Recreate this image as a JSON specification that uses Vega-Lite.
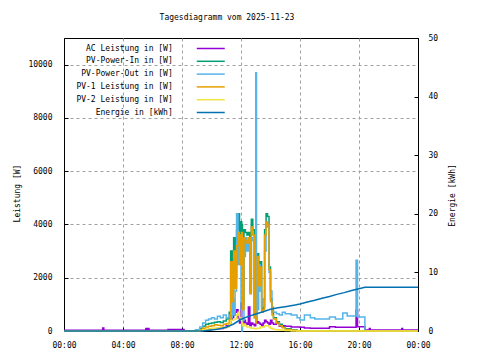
{
  "$schema": "https://vega.github.io/schema/vega-lite/v6.json",
  "width": 354,
  "height": 293,
  "autosize": "none",
  "padding": {"left": 64, "top": 38, "right": 62, "bottom": 29},
  "background": "white",
  "config": {
    "font": "DejaVu Sans Mono",
    "view": {"stroke": "black", "strokeWidth": 1},
    "axis": {
      "labelFont": "DejaVu Sans Mono", "labelFontSize": 8, "labelColor": "black",
      "titleFont": "DejaVu Sans Mono", "titleFontSize": 8, "titleFontWeight": "normal", "titleColor": "black",
      "domainColor": "black", "tickColor": "black", "tickSize": -4,
      "gridColor": "#a0a0a0", "gridDash": [3, 3], "gridWidth": 1
    }
  },
  "title": {"text": "Tagesdiagramm vom 2025-11-23", "font": "DejaVu Sans Mono", "fontSize": 8, "fontWeight": "normal", "color": "black", "offset": 12, "anchor": "middle", "frame": "group", "dx": -14},
  "datasets": {
    "power": [
      {"h": 0, "ac": 30, "pin": 0, "pout": 0, "pv1": 0, "pv2": 0},
      {"h": 2.62, "ac": 110, "pin": 0, "pout": 0, "pv1": 0, "pv2": 0},
      {"h": 2.7, "ac": 30, "pin": 0, "pout": 0, "pv1": 0, "pv2": 0},
      {"h": 5.55, "ac": 90, "pin": 0, "pout": 0, "pv1": 0, "pv2": 0},
      {"h": 5.62, "ac": 30, "pin": 0, "pout": 0, "pv1": 0, "pv2": 0},
      {"h": 5.7, "ac": 90, "pin": 0, "pout": 0, "pv1": 0, "pv2": 0},
      {"h": 5.76, "ac": 30, "pin": 0, "pout": 0, "pv1": 0, "pv2": 0},
      {"h": 7.05, "ac": 55, "pin": 0, "pout": 0, "pv1": 0, "pv2": 0},
      {"h": 8.14, "ac": 0, "pin": 0, "pout": 0, "pv1": 0, "pv2": 0},
      {"h": 8.9, "ac": 0, "pin": 20, "pout": 40, "pv1": 10, "pv2": 0},
      {"h": 9.0, "ac": 0, "pin": 20, "pout": 50, "pv1": 10, "pv2": 0},
      {"h": 9.2, "ac": 20, "pin": 80, "pout": 150, "pv1": 40, "pv2": 20},
      {"h": 9.4, "ac": 30, "pin": 180, "pout": 300, "pv1": 100, "pv2": 50},
      {"h": 9.6, "ac": 50, "pin": 250, "pout": 400, "pv1": 150, "pv2": 70},
      {"h": 9.8, "ac": 60, "pin": 280, "pout": 450, "pv1": 180, "pv2": 80},
      {"h": 10.0, "ac": 80, "pin": 300, "pout": 500, "pv1": 200, "pv2": 100},
      {"h": 10.2, "ac": 70, "pin": 330, "pout": 450, "pv1": 230, "pv2": 100},
      {"h": 10.4, "ac": 100, "pin": 350, "pout": 550, "pv1": 220, "pv2": 120},
      {"h": 10.6, "ac": 90, "pin": 320, "pout": 500, "pv1": 200, "pv2": 120},
      {"h": 10.8, "ac": 130, "pin": 380, "pout": 600, "pv1": 250, "pv2": 130},
      {"h": 11.0, "ac": 200, "pin": 450, "pout": 500, "pv1": 280, "pv2": 150},
      {"h": 11.2, "ac": 250, "pin": 700, "pout": 600, "pv1": 400, "pv2": 250},
      {"h": 11.3, "ac": 400, "pin": 3000, "pout": 500, "pv1": 2600, "pv2": 400},
      {"h": 11.4, "ac": 500, "pin": 1500, "pout": 1200, "pv1": 1100, "pv2": 400},
      {"h": 11.5, "ac": 600, "pin": 3500, "pout": 600, "pv1": 3000, "pv2": 450},
      {"h": 11.6, "ac": 700, "pin": 2000, "pout": 1500, "pv1": 1600, "pv2": 450},
      {"h": 11.7, "ac": 800, "pin": 3800, "pout": 4400, "pv1": 3200, "pv2": 600},
      {"h": 11.8, "ac": 500, "pin": 4400, "pout": 2500, "pv1": 3700, "pv2": 700},
      {"h": 11.9, "ac": 300, "pin": 3000, "pout": 3200, "pv1": 2500, "pv2": 500},
      {"h": 12.0, "ac": 1050, "pin": 4100, "pout": 800, "pv1": 3600, "pv2": 400},
      {"h": 12.05, "ac": 200, "pin": 4000, "pout": 0, "pv1": 3700, "pv2": 300},
      {"h": 12.1, "ac": 300, "pin": 1000, "pout": 400, "pv1": 800, "pv2": 200},
      {"h": 12.2, "ac": 400, "pin": 3800, "pout": 2800, "pv1": 3500, "pv2": 250},
      {"h": 12.3, "ac": 300, "pin": 3700, "pout": 3500, "pv1": 3400, "pv2": 200},
      {"h": 12.4, "ac": 250, "pin": 3600, "pout": 3000, "pv1": 3300, "pv2": 150},
      {"h": 12.5, "ac": 900, "pin": 3700, "pout": 3400, "pv1": 3500, "pv2": 150},
      {"h": 12.6, "ac": 200, "pin": 1500, "pout": 1800, "pv1": 1400, "pv2": 120},
      {"h": 12.7, "ac": 300, "pin": 4200, "pout": 3500, "pv1": 3900, "pv2": 100},
      {"h": 12.8, "ac": 250, "pin": 3800, "pout": 3400, "pv1": 3600, "pv2": 100},
      {"h": 12.9, "ac": 200, "pin": 600, "pout": 500, "pv1": 500, "pv2": 80},
      {"h": 13.0, "ac": 300, "pin": 400, "pout": 9700, "pv1": 300, "pv2": 80},
      {"h": 13.05, "ac": 300, "pin": 500, "pout": 400, "pv1": 400, "pv2": 80},
      {"h": 13.1, "ac": 350, "pin": 2900, "pout": 800, "pv1": 2800, "pv2": 100},
      {"h": 13.2, "ac": 300, "pin": 1800, "pout": 2500, "pv1": 1700, "pv2": 100},
      {"h": 13.3, "ac": 250, "pin": 2600, "pout": 1500, "pv1": 2400, "pv2": 150},
      {"h": 13.4, "ac": 200, "pin": 800, "pout": 900, "pv1": 700, "pv2": 150},
      {"h": 13.5, "ac": 300, "pin": 900, "pout": 1200, "pv1": 800, "pv2": 150},
      {"h": 13.6, "ac": 400, "pin": 3800, "pout": 3000, "pv1": 3600, "pv2": 200},
      {"h": 13.7, "ac": 350, "pin": 4400, "pout": 4100, "pv1": 4100, "pv2": 200},
      {"h": 13.8, "ac": 300, "pin": 4300, "pout": 3900, "pv1": 4000, "pv2": 200},
      {"h": 13.9, "ac": 250, "pin": 2400, "pout": 2200, "pv1": 2300, "pv2": 150},
      {"h": 14.0, "ac": 400, "pin": 1200, "pout": 1500, "pv1": 1100, "pv2": 100},
      {"h": 14.1, "ac": 300, "pin": 700, "pout": 900, "pv1": 600, "pv2": 80},
      {"h": 14.2, "ac": 250, "pin": 500, "pout": 700, "pv1": 450, "pv2": 60},
      {"h": 14.4, "ac": 300, "pin": 350, "pout": 650, "pv1": 300, "pv2": 50},
      {"h": 14.6, "ac": 180, "pin": 250, "pout": 600, "pv1": 200, "pv2": 40},
      {"h": 14.8, "ac": 200, "pin": 150, "pout": 700, "pv1": 120, "pv2": 30},
      {"h": 15.0, "ac": 180, "pin": 80, "pout": 650, "pv1": 60, "pv2": 20},
      {"h": 15.4, "ac": 150, "pin": 40, "pout": 600, "pv1": 30, "pv2": 0},
      {"h": 15.8, "ac": 150, "pin": 0, "pout": 500, "pv1": 0, "pv2": 0},
      {"h": 16.0, "ac": 140, "pin": 0, "pout": 410, "pv1": 0, "pv2": 0},
      {"h": 16.3, "ac": 110, "pin": 0, "pout": 600, "pv1": 0, "pv2": 0},
      {"h": 16.7, "ac": 100, "pin": 0, "pout": 500, "pv1": 0, "pv2": 0},
      {"h": 17.0, "ac": 100, "pin": 0, "pout": 450, "pv1": 0, "pv2": 0},
      {"h": 18.0, "ac": 160, "pin": 0, "pout": 525, "pv1": 0, "pv2": 0},
      {"h": 18.4, "ac": 140, "pin": 0, "pout": 450, "pv1": 0, "pv2": 0},
      {"h": 18.9, "ac": 140, "pin": 0, "pout": 675, "pv1": 0, "pv2": 0},
      {"h": 19.2, "ac": 140, "pin": 0, "pout": 560, "pv1": 0, "pv2": 0},
      {"h": 19.8, "ac": 790, "pin": 0, "pout": 2660, "pv1": 0, "pv2": 0},
      {"h": 19.9, "ac": 160, "pin": 0, "pout": 525, "pv1": 0, "pv2": 0},
      {"h": 20.4, "ac": 40, "pin": 0, "pout": 0, "pv1": 0, "pv2": 0},
      {"h": 20.7, "ac": 90, "pin": 0, "pout": 0, "pv1": 0, "pv2": 0},
      {"h": 20.76, "ac": 40, "pin": 0, "pout": 0, "pv1": 0, "pv2": 0},
      {"h": 22.9, "ac": 90, "pin": 0, "pout": 0, "pv1": 0, "pv2": 0},
      {"h": 22.96, "ac": 40, "pin": 0, "pout": 0, "pv1": 0, "pv2": 0},
      {"h": 24, "ac": 40, "pin": 0, "pout": 0, "pv1": 0, "pv2": 0}
    ],
    "energy": [
      {"s": "e", "h": 0, "e": 0}, {"s": "e", "h": 9.0, "e": 0}, {"s": "e", "h": 9.5, "e": 0.05},
      {"s": "e", "h": 10, "e": 0.15}, {"s": "e", "h": 10.5, "e": 0.35}, {"s": "e", "h": 11, "e": 0.65},
      {"s": "e", "h": 11.5, "e": 1.2}, {"s": "e", "h": 12, "e": 2.0}, {"s": "e", "h": 12.5, "e": 2.5},
      {"s": "e", "h": 13, "e": 2.9}, {"s": "e", "h": 13.5, "e": 3.3}, {"s": "e", "h": 14, "e": 3.7},
      {"s": "e", "h": 14.5, "e": 3.95}, {"s": "e", "h": 15, "e": 4.15}, {"s": "e", "h": 15.66, "e": 4.43},
      {"s": "e", "h": 16, "e": 4.6}, {"s": "e", "h": 16.5, "e": 4.95}, {"s": "e", "h": 17, "e": 5.25},
      {"s": "e", "h": 17.5, "e": 5.6}, {"s": "e", "h": 18, "e": 5.9}, {"s": "e", "h": 18.5, "e": 6.25},
      {"s": "e", "h": 19, "e": 6.55}, {"s": "e", "h": 19.5, "e": 6.9}, {"s": "e", "h": 20, "e": 7.2},
      {"s": "e", "h": 20.4, "e": 7.45}, {"s": "e", "h": 24, "e": 7.45}
    ]
  },
  "layer": [
    {
      "data": {"name": "power"},
      "transform": [{"fold": ["ac", "pin", "pout", "pv1", "pv2"], "as": ["s", "v"]}],
      "mark": {"type": "line", "interpolate": "step-after", "strokeWidth": 1.5},
      "encoding": {
        "x": {
          "field": "h", "type": "quantitative",
          "scale": {"domain": [0, 24], "nice": false},
          "axis": {
            "title": null,
            "values": [0,1,2,3,4,5,6,7,8,9,10,11,12,13,14,15,16,17,18,19,20,21,22,23,24],
            "labelExpr": "datum.value % 2 == 1 ? '' : ((datum.value % 24 < 10 ? '0' : '') + (datum.value % 24) + ':00')",
            "labelPadding": 14,
            "labelFlush": false,
            "labelOverlap": false,
            "gridOpacity": {"condition": {"test": "datum.value % 2 == 1 || datum.value == 0 || datum.value == 24", "value": 0}, "value": 1}
          }
        },
        "y": {
          "field": "v", "type": "quantitative",
          "scale": {"domain": [0, 11000], "nice": false},
          "axis": {
            "values": [0, 2000, 4000, 6000, 8000, 10000],
            "format": "d",
            "title": "Leistung [W]",
            "titleAngle": 270, "titleX": -46.5, "titleY": 155, "titleAlign": "center", "titleBaseline": "middle",
            "labelPadding": 16
          }
        },
        "color": {
          "field": "s", "type": "nominal",
          "scale": {"domain": ["ac", "pin", "pout", "pv1", "pv2", "e"], "range": ["#9400d3", "#009e73", "#56b4e9", "#e69f00", "#f0e442", "#0072b2"]},
          "legend": {
            "orient": "none", "legendX": 140.25, "legendY": 4, "direction": "vertical", "title": null,
            "symbolType": "M-2.545,0H2.545", "symbolSize": 121, "symbolStrokeWidth": 1.5, "symbolFillColor": "transparent",
            "labelAlign": "right", "labelOffset": -44.5, "labelFont": "DejaVu Sans Mono", "labelFontSize": 8, "labelColor": "black",
            "labelLimit": 300, "rowPadding": 1.8, "padding": 0,
            "labelExpr": "datum.label == 'ac' ? 'AC Leistung in [W]' : datum.label == 'pin' ? 'PV-Power-In in [W]' : datum.label == 'pout' ? 'PV-Power-Out in [W]' : datum.label == 'pv1' ? 'PV-1 Leistung in [W]' : datum.label == 'pv2' ? 'PV-2 Leistung in [W]' : 'Energie in [kWh]'"
          }
        }
      }
    },
    {
      "data": {"name": "energy"},
      "mark": {"type": "line", "strokeWidth": 1.5},
      "encoding": {
        "x": {"field": "h", "type": "quantitative"},
        "y": {
          "field": "e", "type": "quantitative",
          "scale": {"domain": [0, 50], "nice": false},
          "axis": {
            "orient": "right", "values": [0, 10, 20, 30, 40, 50], "grid": false,
            "title": "Energie [kWh]",
            "titleAngle": 270, "titleX": 34.5, "titleY": 157, "titleAlign": "center", "titleBaseline": "middle",
            "labelPadding": 14
          }
        },
        "color": {"field": "s", "type": "nominal"}
      }
    }
  ],
  "resolve": {"scale": {"y": "independent"}}
}
